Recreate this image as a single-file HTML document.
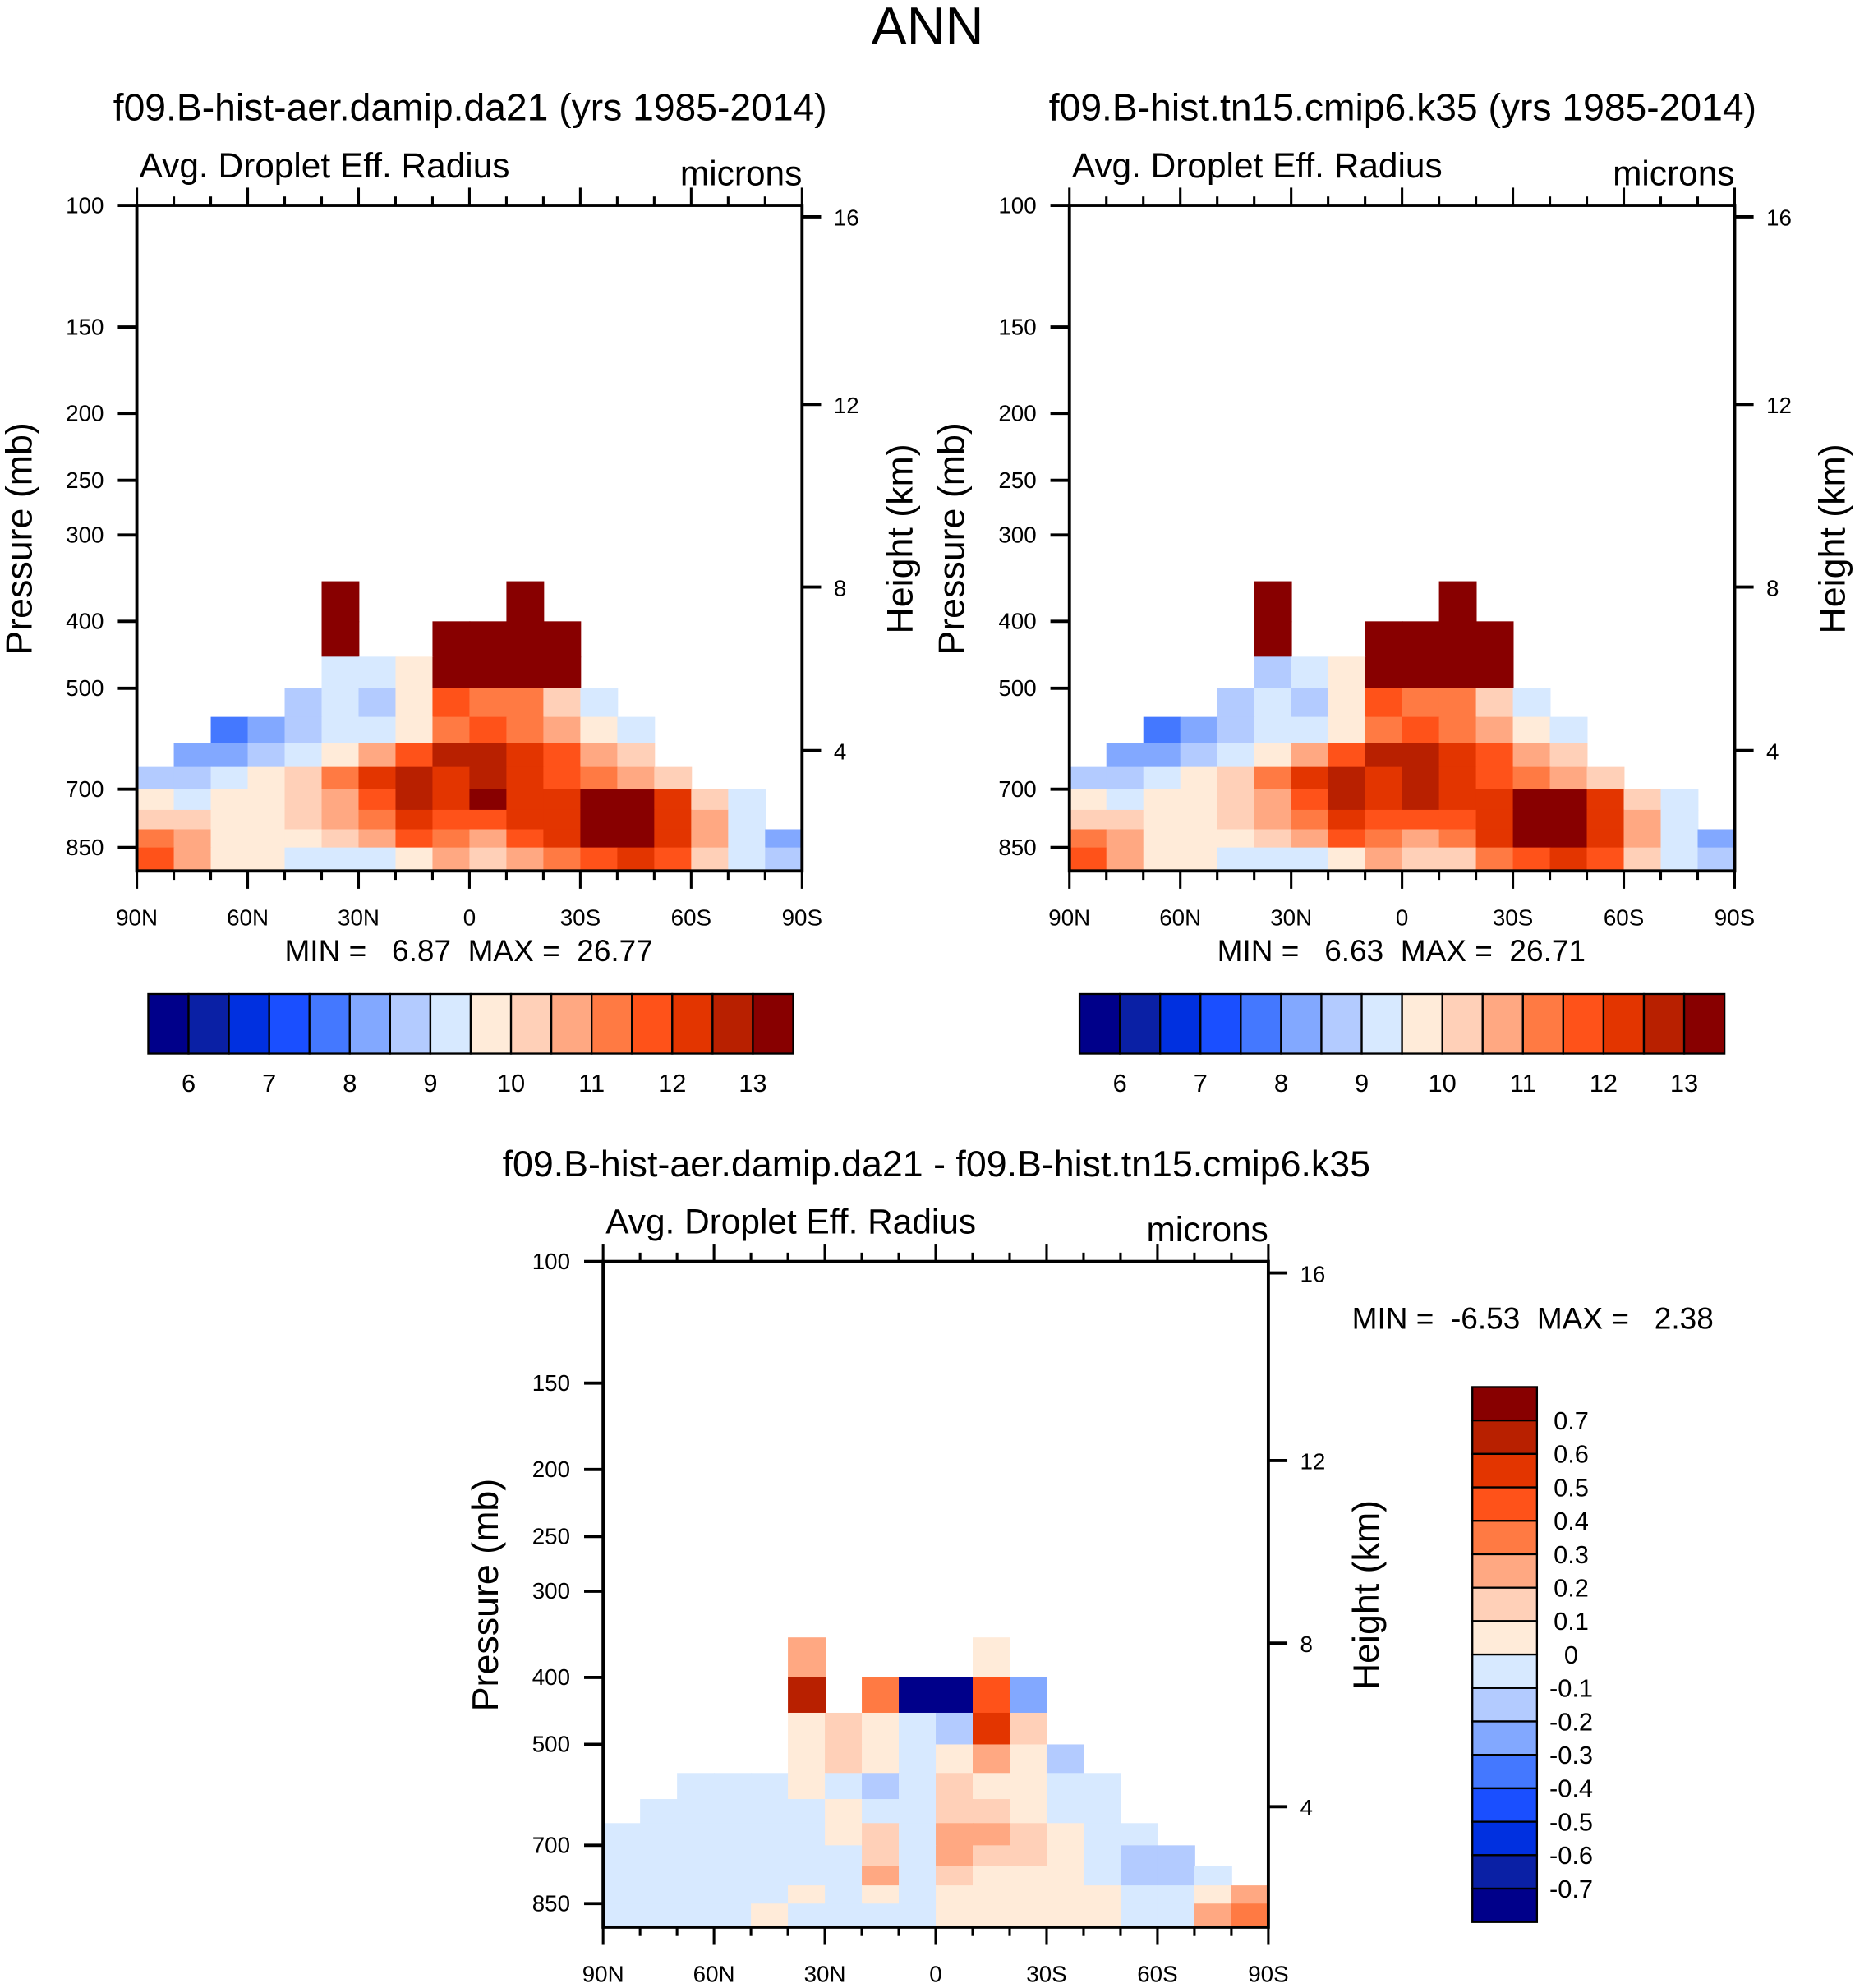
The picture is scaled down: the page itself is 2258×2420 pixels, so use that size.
<!DOCTYPE html>
<html><head><meta charset="utf-8"><style>
html,body{margin:0;padding:0;background:#fff}
svg{display:block}
text{font-family:"Liberation Sans",sans-serif;fill:#000}
</style></head><body>
<svg id="chart" width="2258" height="2420" viewBox="0 0 1464 1568" preserveAspectRatio="none" xmlns="http://www.w3.org/2000/svg"></svg>
<script>
const levelEdges = [350,400,450,500,550,600,650,700,750,800,850,920];
const latEdges = [90,80,70,60,50,40,30,20,10,0,-10,-20,-30,-40,-50,-60,-70,-80,-90];
const n = NaN;
const fieldA = [
 [n,n,n,n,n,14,n,n,n,n,14,n,n,n,n,n,n,n],
 [n,n,n,n,n,14,n,n,14,14,14,14,n,n,n,n,n,n],
 [n,n,n,n,n,9,9,9.8,13.5,13.5,13.5,13,n,n,n,n,n,n],
 [n,n,n,n,8.5,9.2,8.8,9.5,11.5,11.2,11,10.2,9.2,n,n,n,n,n],
 [n,n,7.7,8.3,8.5,9,9.2,9.8,11,11.5,11,10.5,9.9,9.3,n,n,n,n],
 [n,8,8.3,8.7,9.2,9.7,10.5,11.5,12.5,12.5,12,11.5,10.5,10,n,n,n,n],
 [8.8,8.7,9,9.7,10.3,11,12,12.5,12,12.5,12,11.8,11.3,10.5,10.2,n,n,n],
 [9.5,9.3,9.5,9.8,10.3,10.5,11.5,12.5,12.2,13,12.3,12.2,13,13,12,10,9.2,n],
 [10.3,10,9.8,9.8,10.3,10.5,11,12,11.8,11.8,12,12.3,13,13,12.3,10.5,9,n],
 [11,10.5,9.8,9.7,9.5,10.3,10.5,11.5,11,10.8,11.5,12.2,13,13,12.3,10.5,9,8],
 [11.8,10.8,9.8,9.7,9.2,9.3,9,9.5,10.8,10.3,10.5,11,11.5,12,11.5,10,9,8.8]
];
const fieldB = [
 [n,n,n,n,n,14,n,n,n,n,14,n,n,n,n,n,n,n],
 [n,n,n,n,n,14,n,n,14,14,14,14,n,n,n,n,n,n],
 [n,n,n,n,n,8.8,9,9.8,13.5,13.5,13.5,13,n,n,n,n,n,n],
 [n,n,n,n,8.5,9.2,8.8,9.5,11.5,11.2,11,10.2,9.2,n,n,n,n,n],
 [n,n,7.7,8.3,8.5,9,9.2,9.8,11,11.5,11,10.5,9.9,9.3,n,n,n,n],
 [n,8,8.3,8.7,9.2,9.7,10.5,11.5,12.5,12.5,12,11.5,10.5,10,n,n,n,n],
 [8.8,8.7,9,9.7,10.3,11,12,12.5,12,12.5,12,11.8,11.3,10.5,10.2,n,n,n],
 [9.5,9.3,9.5,9.8,10.3,10.5,11.5,12.5,12,12.8,12.2,12.2,13,13,12,10,9.2,n],
 [10.3,10,9.8,9.8,10.3,10.5,11,12,11.8,11.8,11.8,12.3,13,13,12.3,10.5,9,n],
 [11,10.5,9.8,9.7,9.5,10.3,10.5,11.5,11,10.8,11.3,12.2,13,13,12.3,10.5,9,8],
 [11.8,10.8,9.8,9.7,9.2,9.3,9,9.5,10.8,10.3,10.3,11,11.5,12,11.5,10,9,8.8]
];
const fieldDiff = [
 [n,n,n,n,n,0.2,n,n,n,n,0.05,n,n,n,n,n,n,n],
 [n,n,n,n,n,0.6,n,0.3,-0.8,-0.8,0.4,-0.3,n,n,n,n,n,n],
 [n,n,n,n,n,0.05,0.1,0.05,-0.1,-0.2,0.5,0.15,n,n,n,n,n,n],
 [n,n,n,n,n,0.05,0.1,0.05,-0.05,0.05,0.2,0.05,-0.2,n,n,n,n,n],
 [n,n,-0.05,-0.05,-0.05,0.05,-0.05,-0.15,-0.1,0.15,0.05,0.05,-0.1,-0.1,n,n,n,n],
 [n,-0.05,-0.05,-0.05,-0.05,-0.05,0.05,-0.1,-0.1,0.1,0.1,0.05,-0.05,-0.1,n,n,n,n],
 [-0.05,-0.05,-0.05,-0.05,-0.05,-0.05,0.05,0.1,-0.1,0.2,0.2,0.1,0.05,-0.05,-0.05,n,n,n],
 [-0.05,-0.05,-0.05,-0.05,-0.05,-0.05,-0.05,0.15,-0.05,0.25,0.15,0.1,0.05,-0.05,-0.15,-0.15,n,n],
 [-0.05,-0.05,-0.05,-0.05,-0.05,-0.05,-0.05,0.2,-0.05,0.15,0.05,0.05,0.05,-0.05,-0.15,-0.15,-0.05,n],
 [-0.05,-0.05,-0.05,-0.05,-0.05,0.05,-0.05,0.05,-0.05,0.05,0.05,0.05,0.05,0.05,-0.05,-0.1,0.05,0.2],
 [-0.05,-0.05,-0.05,-0.05,0.05,-0.05,-0.05,-0.05,-0.05,0.05,0.05,0.05,0.05,0.05,-0.05,-0.05,0.2,0.3]
];
const boundsA = [6,6.5,7,7.5,8,8.5,9,9.5,10,10.5,11,11.5,12,12.5,13];
const boundsDiff = [-0.7,-0.6,-0.5,-0.4,-0.3,-0.2,-0.1,0,0.1,0.2,0.3,0.4,0.5,0.6,0.7];
const cbLabelsA = ["6","7","8","9","10","11","12","13"];
const cbLabelsDiff = ["-0.7","-0.6","-0.5","-0.4","-0.3","-0.2","-0.1","0","0.1","0.2","0.3","0.4","0.5","0.6","0.7"];
const pTicks = [100,150,200,250,300,400,500,700,850];
const hTicks = [16,12,8,4];
const hTickY = [9,157,301,430];
const latTicks = [90,60,30,0,-30,-60,-90];
const latLabels = ["90N","60N","30N","0","30S","60S","90S"];
const palette = ["#00008a","#0a20a5","#0030e0","#1a4fff","#4478ff","#82a8ff","#b3cbff","#d7e9ff","#ffebd9","#ffd0b8","#ffa882","#ff7a43","#ff5219","#e33500","#b82000","#880000"];

const svg = document.getElementById('chart');
const NS = "http://www.w3.org/2000/svg";
function mk(tag, attrs, parent){const e=document.createElementNS(NS,tag);for(const k in attrs)e.setAttribute(k,attrs[k]);(parent||svg).appendChild(e);return e;}
function txt(s, x, y, size, anchor, parent){const t=mk('text',{x:x,y:y,'font-size':size,'text-anchor':anchor||'start'},parent);t.textContent=s;return t;}
function colorIdx(v,b){let i=0;for(const x of b){if(v>=x)i++;}return i;}

const PW=525, PH=525;
function yScale(p){return PH*Math.log10(p/100)/0.9635;}
function xScale(lat){return (90-lat)*PW/180;}

function panel(ox, oy, field, bounds, name){
  const g = mk('g',{transform:`translate(${ox},${oy})`});
  
  
  for(let r=0;r<field.length;r++){
    for(let c=0;c<field[r].length;c++){
      const v = field[r][c];
      if(isNaN(v)) continue;
      const x0=xScale(latEdges[c]), x1=xScale(latEdges[c+1]);
      const y0=yScale(levelEdges[r]), y1=Math.min(PH,yScale(levelEdges[r+1]));
      const cell = mk('rect',{x:x0,y:y0,width:x1-x0+0.6,height:y1-y0+0.6,fill:palette[colorIdx(v,bounds)]},g);
      
      
    }
  }
  const frame = mk('rect',{x:0,y:0,width:PW,height:PH,fill:'none',stroke:'#000','stroke-width':2.5},g);
  
  
  for(const p of pTicks){
    const y=yScale(p);
    mk('line',{x1:-15,y1:y,x2:0,y2:y,stroke:'#000','stroke-width':2.5},g);
    const t=txt(String(p),-26,y+6,18,'end',g);
    
    
  }
  for(let i=0;i<hTicks.length;i++){
    const y=hTickY[i];
    mk('line',{x1:PW,y1:y,x2:PW+15,y2:y,stroke:'#000','stroke-width':2.5},g);
    const t=txt(String(hTicks[i]),PW+25,y+7,18,'start',g);
    
    
  }
  for(let lat=90;lat>=-90;lat-=10){
    const x=xScale(lat), major=(lat%30===0);
    const L=major?14:7;
    mk('line',{x1:x,y1:0,x2:x,y2:-L,stroke:'#000','stroke-width':2},g);
    mk('line',{x1:x,y1:PH,x2:x,y2:PH+L,stroke:'#000','stroke-width':2},g);
  }
  for(let i=0;i<latTicks.length;i++){
    const t=txt(latLabels[i],xScale(latTicks[i]),PH+43,18,'middle',g);
    
    
  }
  let t=txt('Avg. Droplet Eff. Radius',2,-22,27.5,'start',g);
  
  
  t=txt('microns',PW,-16,27.5,'end',g);
  
  
  t=mk('text',{transform:`translate(${-83},${263}) rotate(-90)`,'font-size':29,'text-anchor':'middle'},g);
  t.textContent='Pressure (mb)';
  
  
  t=mk('text',{transform:`translate(${PW+87},${263}) rotate(-90)`,'font-size':29,'text-anchor':'middle'},g);
  t.textContent='Height (km)';
  
  
  return g;
}

function hColorbar(x0,y0,w,h,labels,name){
  const g=mk('g',{});
  
  
  const bw=w/palette.length;
  for(let i=0;i<palette.length;i++){
    const r=mk('rect',{x:x0+i*bw,y:y0,width:bw,height:h,fill:palette[i],stroke:'#000','stroke-width':1.5},g);
    
    
  }
  for(let j=0;j<labels.length;j++){
    const t=txt(labels[j],x0+(2*j+1)*bw,y0+h+30,20,'middle',g);
    
    
  }
}

let t=txt('ANN',732,35,42,'middle');



t=txt('f09.B-hist-aer.damip.da21 (yrs 1985-2014)',371,95,30,'middle');


t=txt('f09.B-hist.tn15.cmip6.k35 (yrs 1985-2014)',1107,95,30,'middle');


t=txt('f09.B-hist-aer.damip.da21 - f09.B-hist.tn15.cmip6.k35',739,928,29,'middle');



panel(108,162,fieldA,boundsA,'left-contour-panel');
panel(844,162,fieldB,boundsA,'right-contour-panel');
panel(476,995,fieldDiff,boundsDiff,'diff-contour-panel');

t=txt('MIN =   6.87  MAX =  26.77',370,758,24,'middle');
t.setAttribute('style','white-space:pre');


t=txt('MIN =   6.63  MAX =  26.71',1106,758,24,'middle');
t.setAttribute('style','white-space:pre');


t=txt('MIN =  -6.53  MAX =   2.38',1067,1048,24,'start');
t.setAttribute('style','white-space:pre');



hColorbar(117,784,509,47,cbLabelsA,'left-colorbar');
hColorbar(852,784,509,47,cbLabelsA,'right-colorbar');

const vg=mk('g',{});


const vx=1162, vy=1094, vw=51, vh=422, bh=vh/palette.length;
for(let i=0;i<palette.length;i++){
  const r=mk('rect',{x:vx,y:vy+i*bh,width:vw,height:bh,fill:palette[palette.length-1-i],stroke:'#000','stroke-width':1.5},vg);
  
  
}
for(let j=0;j<cbLabelsDiff.length;j++){
  const lab=cbLabelsDiff[cbLabelsDiff.length-1-j];
  const tt=txt(lab,1240,vy+(j+1)*bh+7,20,'middle',vg);
  
  
}
</script>
</body></html>
